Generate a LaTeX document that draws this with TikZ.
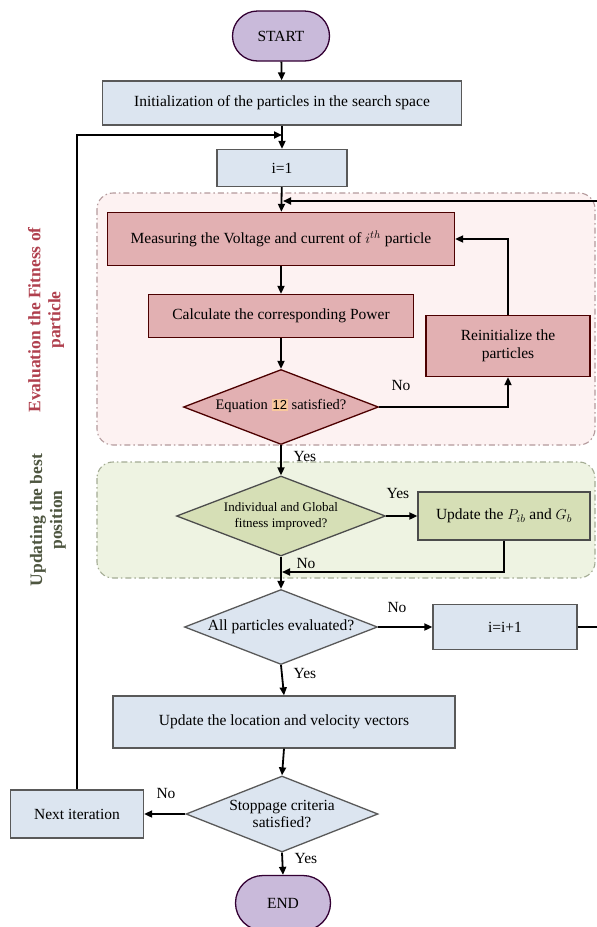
\documentclass[tikz,border=0pt]{standalone}
\usepackage{fontspec}
\setmainfont{Liberation Serif}
\setsansfont{Liberation Sans}
\usetikzlibrary{arrows.meta,shapes.geometric,shapes.misc}
\definecolor{bluefill}{HTML}{DCE5F0}
\definecolor{redfill}{HTML}{E2B0B2}
\definecolor{greenfill}{HTML}{D6DFB6}
\definecolor{lavfill}{HTML}{C9BADA}
\definecolor{redreg}{HTML}{FDF2F2}
\definecolor{greenreg}{HTML}{EEF3E2}
\definecolor{redline}{HTML}{B49A9C}
\definecolor{greenline}{HTML}{A4AC94}
\definecolor{redlabel}{HTML}{B0404E}
\definecolor{greenlabel}{HTML}{4E5640}
\definecolor{hl}{HTML}{F8C89C}
\tikzset{
  basebox/.style={draw=black!65, line width=1.3pt, inner sep=0pt, font=\fontsize{15.5}{17.5}\selectfont},
  bluebox/.style={basebox, rectangle, fill=bluefill},
  redbox/.style={basebox, rectangle, fill=redfill, draw=black!70!red},
  greenbox/.style={basebox, rectangle, fill=greenfill, draw=black!70},
  term/.style={basebox, rounded rectangle, fill=lavfill, draw=black!60!violet},
  dia/.style={basebox, diamond, aspect=2},
  dtext/.style={inner sep=0pt, align=center, font=\fontsize{15.5}{17}\selectfont},
  arr/.style={line width=1.8pt, -{Triangle[length=8pt,width=7pt]}},
  lbl/.style={font=\fontsize{15.5}{17.5}\selectfont, inner sep=0pt},
  region/.style={rounded corners=16pt, line width=1.1pt, dash pattern=on 6pt off 3pt on 1.5pt off 3pt},
  side/.style={rotate=90, align=center, font=\bfseries\fontsize{17.5}{20}\selectfont, inner sep=0pt}
}
\begin{document}
\begin{tikzpicture}[x=1pt,y=-1pt]
\useasboundingbox (0,0) rectangle (597,927);
\fill[white] (0,0) rectangle (597,927);
% regions
\draw[region, fill=redreg, draw=redline] (97,193) rectangle (595,445);
\draw[region, fill=greenreg, draw=greenline] (97,462) rectangle (595,578);
% side labels
\node[side, text=redlabel] (sideA) at (46,320) {Evaluation the Fitness of\\particle};
\node[side, text=greenlabel] (sideB) at (48,520) {Updating the best\\position};
% nodes
\node[term, minimum width=97pt, minimum height=50pt] (start) at (281,36) {START};
\node[bluebox, minimum width=359pt, minimum height=44pt] (init) at (282,103) {Initialization of the particles in the search space};
\node[bluebox, minimum width=130pt, minimum height=37pt] (i1) at (282,168) {i=1};
\node[redbox, minimum width=347pt, minimum height=53pt] (meas) at (281,239) {Measuring the Voltage and current of $i^{th}$ particle};
\node[redbox, minimum width=265pt, minimum height=43pt] (calc) at (281,316) {Calculate the corresponding Power};
\node[dia, fill=redfill, draw=black!70!red, minimum width=195pt, minimum height=75pt] (eq) at (281,407) {};
\node[dtext, font=\fontsize{14.5}{16}\selectfont] (eqt) at (281,406) {Equation {\setlength\fboxsep{1pt}\colorbox{hl}{\sffamily\fontsize{13}{14}\selectfont 12}} satisfied?};
\node[redbox, minimum width=164pt, minimum height=61pt, align=center] (reinit) at (508,346) {Reinitialize the\\particles};
\node[dia, fill=greenfill, draw=black!70, minimum width=209pt, minimum height=80pt] (ind) at (281,516) {};
\node[dtext, font=\fontsize{13}{16}\selectfont] (indt) at (281,516) {Individual and Global\\fitness improved?};
\node[greenbox, minimum width=172pt, minimum height=48pt] (upd) at (504,516) {Update the $P_{ib}$ and $G_b$};
\node[dia, fill=bluefill, minimum width=193pt, minimum height=75pt] (all) at (281,627) {};
\node[dtext] (allt) at (281,627) {All particles evaluated?};
\node[bluebox, minimum width=144pt, minimum height=45pt] (ipp) at (505,627) {i=i+1};
\node[bluebox, minimum width=342pt, minimum height=52pt] (upl) at (284,722) {Update the location and velocity vectors};
\node[dia, fill=bluefill, minimum width=192pt, minimum height=76pt] (stop) at (282,814) {};
\node[dtext] (stopt) at (282,814) {Stoppage criteria\\satisfied?};
\node[bluebox, minimum width=133pt, minimum height=48pt] (next) at (77,814) {Next iteration};
\node[term, minimum width=95pt, minimum height=55pt] (end) at (283,903) {END};
% coordinates
\coordinate (j1) at (282,135);
\coordinate (j2) at (283,201);
\coordinate (j3) at (282,572);
\coordinate (redge) at (599,0);
% connectors
\draw[arr] (start) -- (init);
\draw[arr] (init) -- (i1);
\draw[arr] (next.north) |- (j1);
\draw[arr] (i1) -- (meas);
\draw[arr] (ipp.east) -- (ipp.east -| redge) -- (redge |- j2) -- (j2);
\draw[arr] (meas) -- (calc);
\draw[arr] (calc) -- (eq);
\draw[arr] (eq.east) -| (reinit.south);
\draw[arr] (reinit.north) |- (meas.east);
\draw[arr] (eq.south) -- (ind.north);
\draw[arr] (ind.east) -- (upd.west);
\draw[arr] (ind.south) -- (all.north);
\draw[arr] (upd.south) |- (j3);
\draw[arr] (all.east) -- (ipp.west);
\draw[arr] (all.south) -- (upl.north);
\draw[arr] (upl.south) -- (stop.north);
\draw[arr] (stop.west) -- (next.east);
\draw[arr] (stop.south) -- (end.north);
% labels
\node[lbl] (l1) at (401,385) {No};
\node[lbl] (l2) at (305,456) {Yes};
\node[lbl] (l3) at (398,493) {Yes};
\node[lbl] (l4) at (306,563) {No};
\node[lbl] (l5) at (397,607) {No};
\node[lbl] (l6) at (305,673) {Yes};
\node[lbl] (l7) at (166,793) {No};
\node[lbl] (l8) at (306,858) {Yes};
\end{tikzpicture}
\end{document}
